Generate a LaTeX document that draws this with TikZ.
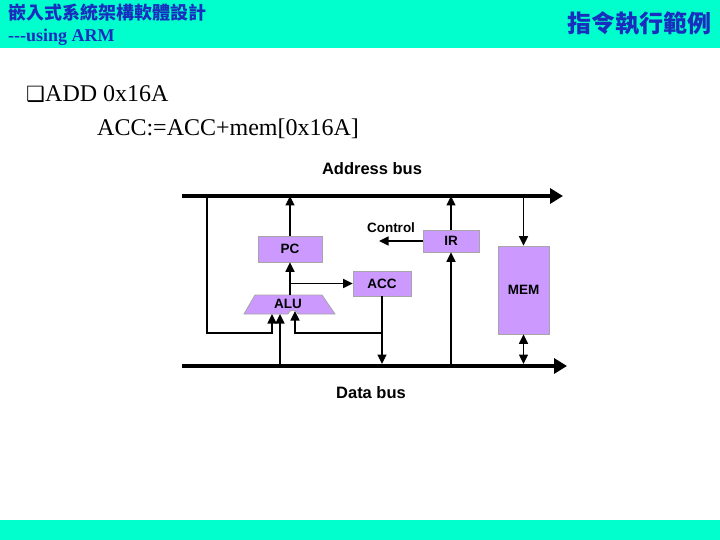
\documentclass[tikz,border=0pt]{standalone}
\usepackage{fontspec}
\setmainfont{Liberation Serif}
\newfontfamily\arialfont{Liberation Sans}
\newfontfamily\cjkfont{Noto Sans CJK TC}
\newfontfamily\symbfont{DejaVu Sans}
\usetikzlibrary{arrows.meta, calc}
\definecolor{barcyan}{RGB}{0,255,204}
\definecolor{titleblue}{RGB}{25,45,190}
\definecolor{unitviolet}{RGB}{204,153,255}

\begin{document}
\begin{tikzpicture}[
  x=1pt, y=-1pt,
  unit/.style={fill=unitviolet, draw=gray!70, line width=0.8pt, inner sep=0pt,
               font=\arialfont\bfseries\fontsize{13.5}{15}\selectfont},
  lbl/.style={inner sep=0pt, font=\arialfont\bfseries\fontsize{13.5}{15}\selectfont},
  buslbl/.style={inner sep=0pt, font=\arialfont\bfseries\fontsize{16.5}{18}\selectfont},
  txt/.style={anchor=base west, inner sep=0pt},
  bus/.style={line width=4pt, -{Triangle[length=13pt, width=15pt]}},
  wire/.style={line width=1.6pt},
  arr/.style={wire, -{Triangle[length=9.5pt, width=9pt]}},
]
  % Slide frame
  \fill[barcyan] (0,0) rectangle (720,48);
  \fill[barcyan] (0,520) rectangle (720,540);
  \useasboundingbox (0,0) rectangle (720,540);

  \node[txt, text=titleblue, font=\cjkfont\bfseries\fontsize{18}{18}\selectfont] (course) at (8,20) {嵌入式系統架構軟體設計};
  \node[txt, text=titleblue, font=\bfseries\fontsize{18}{18}\selectfont] (subtitle) at (8,42) {{-}{-}{-}using ARM};
  \node[txt, anchor=base east, text=titleblue, font=\cjkfont\bfseries\fontsize{24}{24}\selectfont] (title) at (712,33) {指令執行範例};

  \node[txt, font=\symbfont\fontsize{21}{21}\selectfont] (bullet) at (26,102) {❑};
  \node[txt, font=\fontsize{24}{24}\selectfont] (instr) at (45,102) {ADD 0x16A};
  \node[txt, font=\fontsize{24}{24}\selectfont] (rtl) at (97,136) {ACC:=ACC+mem[0x16A]};

  % Buses
  \coordinate (ab0) at (182,196); \coordinate (ab1) at (563,196);
  \coordinate (db0) at (182,366); \coordinate (db1) at (567,366);
  \draw[bus] (ab0) -- (ab1);
  \draw[bus] (db0) -- (db1);
  \node[buslbl] (ablbl) at (372,169) {Address bus};
  \node[buslbl] (dblbl) at (371,393) {Data bus};

  % Units
  \node[unit, minimum width=64pt, minimum height=26pt] (pc)  at (290,249)   {PC};
  \node[unit, minimum width=58pt, minimum height=25pt] (acc) at (382,283.5) {ACC};
  \node[unit, minimum width=56pt, minimum height=22pt] (ir)  at (451,241)   {IR};
  \node[unit, minimum width=51pt, minimum height=88pt] (mem) at (523.5,290) {MEM};
  \draw[unit] (244,314) -- (255,295) -- (322,295) -- (335,314) -- (298,314)
    .. controls (297,309) and (289,309) .. (288,314) -- cycle;
  \node[lbl] (alu) at (288,304) {ALU};

  % Data paths
  \coordinate (alutop) at (290,295);
  \coordinate (aluin1) at (272,314);
  \coordinate (aluin2) at (280,314);
  \coordinate (aluin3) at (295,311);
  \coordinate (tap) at (207,196);
  \coordinate (fb) at (295,333);
  \coordinate (ctrl) at (379,241);

  \draw[arr] (pc.north) -- (pc.north |- ab0);
  \draw[arr] (alutop) -- (pc.south);
  \draw[arr] (alutop |- acc.west) -- (acc.west);
  \draw[arr] (acc.south) -- ($(acc.south |- db0)+(0,-2)$);
  \draw[arr] (acc.south |- fb) -- (fb) -- (aluin3);
  \draw[arr] (tap) |- (aluin1 |- fb) -- (aluin1);
  \draw[arr] (aluin2 |- db0) -- (aluin2);

  \draw[arr] (ir.south |- db0) -- (ir.south);
  \draw[arr] (ir.north) -- (ir.north |- ab0);
  \draw[arr] (ir.west) -- (ctrl);
  \node[lbl] (ctrllbl) at (391,228) {Control};

  \draw[arr] (mem.north |- ab0) -- (mem.north);
  \draw[wire, {Triangle[length=9.5pt, width=9pt]}-{Triangle[length=9.5pt, width=9pt]}]
    (mem.south) -- ($(mem.south |- db0)+(0,-2)$);
\end{tikzpicture}
\end{document}
